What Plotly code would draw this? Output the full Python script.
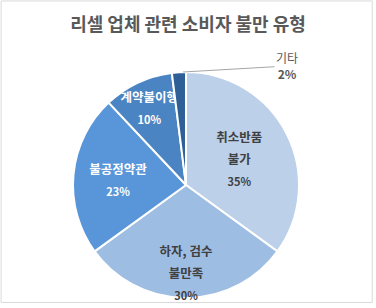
import plotly.graph_objects as go

categories = ["취소반품 불가", "하자, 검수 불만족", "불공정약관", "계약불이행", "기타"]
label_lines = [["취소반품", "불가"], ["하자, 검수", "불만족"], ["불공정약관"], ["계약불이행"], ["기타"]]
values = [35, 30, 23, 10, 2]
pct_labels = ["35%", "30%", "23%", "10%", "2%"]
colors = ["#bcd0ea", "#9ebde3", "#5896d9", "#4a84c2", "#2f5f97"]
text_colors = ["#404040", "#404040", "#ffffff", "#ffffff", "#595959"]
positions = ["inside", "inside", "inside", "inside", "none"]
pad_top = [0, 2, 0, 0, 0]


def make_text(lines, pct, pad):
    parts = ["&nbsp;"] * pad
    parts += [f"<span style='font-size:12.5px'><b>{ln}</b></span>" for ln in lines]
    parts.append(f"<span style='font-size:11px'><b>{pct}</b></span>")
    return "<br>".join(parts)


texts = [make_text(l, p, n) for l, p, n in zip(label_lines, pct_labels, pad_top)]

fig = go.Figure(go.Pie(
    labels=categories,
    values=values,
    text=texts,
    texttemplate="%{text}",
    textposition=positions,
    insidetextorientation="horizontal",
    sort=False,
    direction="clockwise",
    rotation=0,
    marker=dict(colors=colors, line=dict(color="#ffffff", width=2)),
    textfont=dict(family="Noto Sans CJK KR", size=17, color=text_colors),
    domain=dict(x=[73/376, 299/376], y=[1-298/308, 1-72/308]),
    showlegend=False,
    hoverinfo="label+percent",
))

fig.update_layout(
    width=376, height=308,
    margin=dict(l=0, r=0, t=0, b=0),
    paper_bgcolor="#ffffff",
    title=dict(text="<b>리셀 업체 관련 소비자 불만 유형</b>", x=0.5, xanchor="center",
               y=1-25/308, yanchor="middle",
               font=dict(family="Noto Sans CJK KR", size=18, color="#595959")),
    uniformtext=dict(minsize=17, mode="show"),
    shapes=[dict(type="rect", xref="paper", yref="paper", x0=0.003, x1=0.99, y0=0.018, y1=0.997,
                 line=dict(color="#d9d9d9", width=1), fillcolor="rgba(0,0,0,0)", layer="below")],
    annotations=[dict(
        text=f"{label_lines[4][0]}<br><b>{pct_labels[4]}</b>",
        x=183/376, y=1-72/308, xref="paper", yref="paper",
        showarrow=True, arrowhead=0, arrowwidth=1, arrowcolor="#a6a6a6",
        ax=104, ay=-6, standoff=0,
        font=dict(family="Noto Sans CJK KR", size=12, color="#595959"),
    )],
)

fig.write_html("out.html")
